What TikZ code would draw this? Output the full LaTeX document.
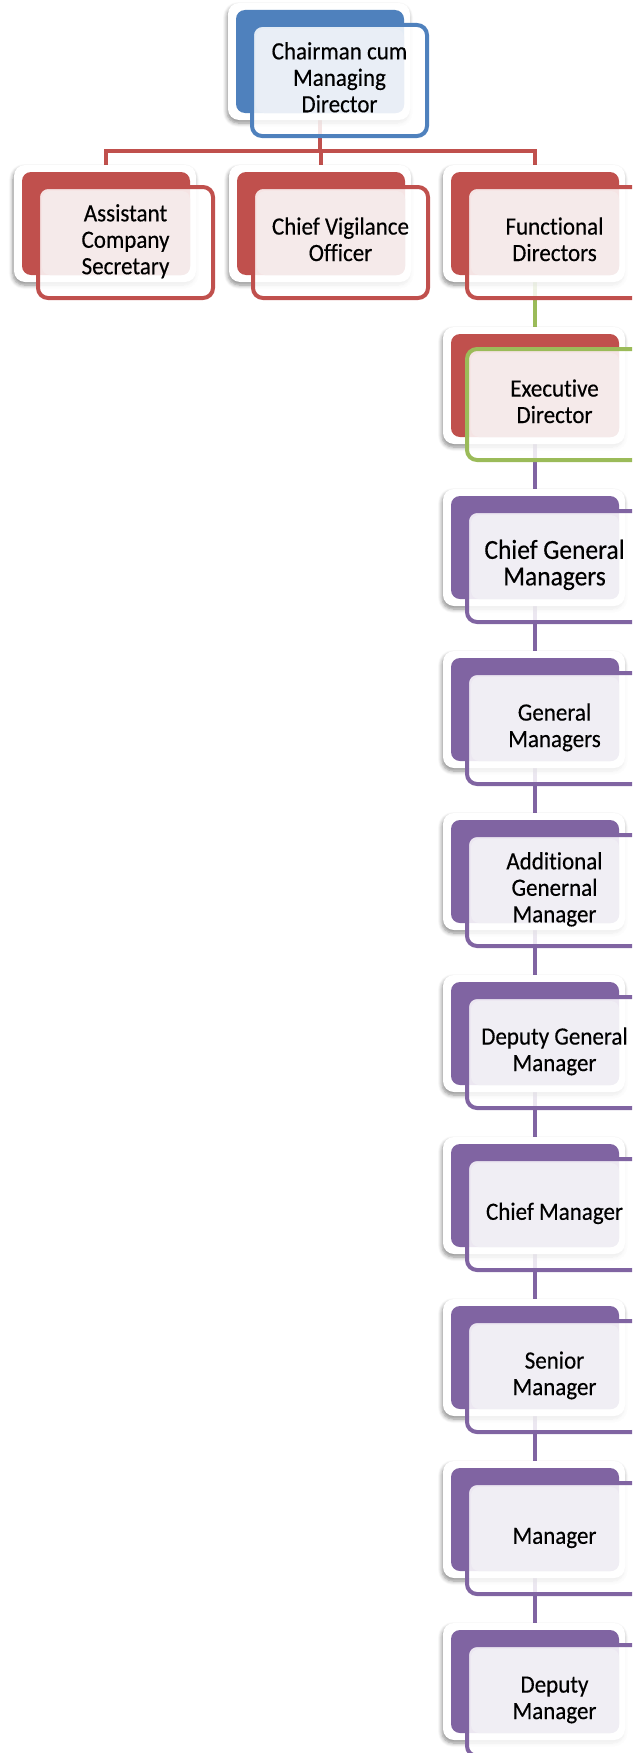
\documentclass[tikz,border=0pt]{standalone}
\usepackage{graphicx}
\usepackage{fontspec}
\setmainfont{Carlito}[Ligatures=NoCommon, FakeBold=0.35]
\usetikzlibrary{shadows.blur}
\definecolor{accBlue}{HTML}{4F81BD}
\definecolor{accRed}{HTML}{C0504D}
\definecolor{accPurple}{HTML}{8064A2}
\definecolor{accGreen}{HTML}{9BBB59}
\definecolor{tintBlue}{HTML}{E9EEF6}
\definecolor{tintRed}{HTML}{F5EAEA}
\definecolor{tintPurple}{HTML}{F0EEF4}
\pgfdeclarelayer{bg}
\pgfsetlayers{bg,main}

\tikzset{
  unitframe/.style={rounded corners=11pt, fill=white, minimum width=182pt,
    minimum height=117pt, inner sep=0pt, outer sep=0pt, anchor=north west,
    blur shadow={shadow xshift=-1pt, shadow yshift=-3pt, shadow blur radius=4pt,
      shadow blur steps=6, shadow opacity=45}},
  darkbox/.style={rounded corners=9pt, minimum width=168pt, minimum height=103pt,
    inner sep=0pt, outer sep=0pt, anchor=north west},
  frontbox/.style={rounded corners=10pt, line width=4pt, minimum width=175pt,
    minimum height=111pt, inner sep=0pt, outer sep=0pt, anchor=north west,
    text=black},
  conn/.style={line width=4pt},
}

% #1 name, #2 x, #3 y (top-left of the dark card), #4 card colour,
% #5 tint colour, #6 outline colour, #7 font, #8 label
\newcommand\orgunit[8]{%
  \node[unitframe] (#1-w) at (#2-8,#3-7) {};
  \node[darkbox, fill=#4] (#1) at (#2,#3) {};
  \fill[white, fill opacity=0.85, rounded corners=10pt] (#2+16,#3+15) rectangle (#2+191,#3+126);
  \fill[#5, rounded corners=8pt] (#2+20,#3+19) rectangle (#2+168,#3+103);
  \node[frontbox, draw=#6, font=#7] (#1-f) at (#2+16,#3+15)
    {\scalebox{1}[1.08]{\begin{tabular}{@{}c@{}}#8\end{tabular}}};
}

\newcommand\fa{\fontsize{23}{24.5}\selectfont}
\newcommand\fd{\fontsize{25.5}{24.5}\selectfont}

\begin{document}
\begin{tikzpicture}[x=1pt, y=-1pt]
\useasboundingbox (0,0) rectangle (632,1753);
\clip (0,0) rectangle (632,1753);

\orgunit{cmd}{236}{10}{accBlue}{tintBlue}{accBlue}{\fa}{Chairman cum\\Managing\\Director}

\orgunit{acs}{22}{172}{accRed}{tintRed}{accRed}{\fa}{Assistant\\Company\\Secretary}
\orgunit{cvo}{237}{172}{accRed}{tintRed}{accRed}{\fa}{Chief Vigilance\\Officer}
\orgunit{fdir}{451}{172}{accRed}{tintRed}{accRed}{\fa}{Functional\\Directors}

\orgunit{ed}{451}{334}{accRed}{tintRed}{accGreen}{\fa}{Executive\\Director}

\orgunit{cgm}{451}{496}{accPurple}{tintPurple}{accPurple}{\fd}{Chief General\\Managers}
\orgunit{gm}{451}{658}{accPurple}{tintPurple}{accPurple}{\fa}{General\\Managers}
\orgunit{agm}{451}{820}{accPurple}{tintPurple}{accPurple}{\fa}{Additional\\Genernal\\Manager}
\orgunit{dgm}{451}{982}{accPurple}{tintPurple}{accPurple}{\fa}{Deputy General\\Manager}
\orgunit{chm}{451}{1144}{accPurple}{tintPurple}{accPurple}{\fa}{Chief Manager}
\orgunit{sm}{451}{1306}{accPurple}{tintPurple}{accPurple}{\fa}{Senior\\Manager}
\orgunit{mgr}{451}{1468}{accPurple}{tintPurple}{accPurple}{\fa}{Manager}
\orgunit{dm}{451}{1630}{accPurple}{tintPurple}{accPurple}{\fa}{Deputy\\Manager}

\begin{pgfonlayer}{bg}
  \coordinate (bus) at (320,151);
  \draw[conn, accRed] (cmd) -- (cmd |- bus);
  \draw[conn, accRed] (acs) -- (acs |- bus) -- (fdir |- bus) -- (fdir);
  \draw[conn, accRed] (cvo |- bus) -- (cvo);
  \draw[conn, accGreen] (fdir) -- (ed);
  \draw[conn, accPurple] (ed) -- (cgm);
  \draw[conn, accPurple] (cgm) -- (gm);
  \draw[conn, accPurple] (gm) -- (agm);
  \draw[conn, accPurple] (agm) -- (dgm);
  \draw[conn, accPurple] (dgm) -- (chm);
  \draw[conn, accPurple] (chm) -- (sm);
  \draw[conn, accPurple] (sm) -- (mgr);
  \draw[conn, accPurple] (mgr) -- (dm);
\end{pgfonlayer}
\end{tikzpicture}
\end{document}
